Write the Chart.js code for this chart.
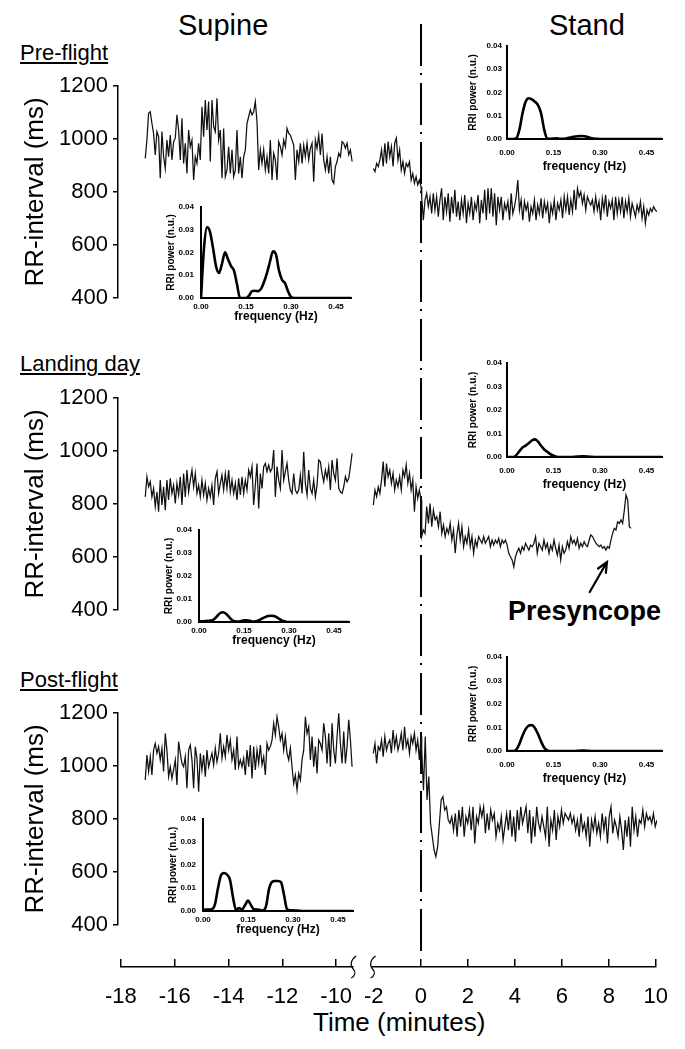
<!DOCTYPE html>
<html><head><meta charset="utf-8">
<script src="https://cdn.jsdelivr.net/npm/chart.js@4.4.0/dist/chart.umd.min.js"></script>
<style>
html,body{margin:0;padding:0;background:#fff;}
#fig{position:relative;width:685px;height:1049px;overflow:hidden;background:#fff;font-family:'Liberation Sans',Arial,Helvetica,sans-serif;color:#000;}
#fig canvas{position:absolute;}
.t{position:absolute;white-space:nowrap;line-height:1;}
</style></head><body><div id="fig">
<div class="t" style="left:178px;top:11px;font-size:29px;">Supine</div>
<div class="t" style="left:549px;top:11px;font-size:29px;">Stand</div>
<div class="t" style="left:20px;top:42px;font-size:22px;text-decoration:underline;">Pre-flight</div>
<div class="t" style="left:20px;top:353px;font-size:22px;text-decoration:underline;">Landing day</div>
<div class="t" style="left:20px;top:669px;font-size:22px;text-decoration:underline;">Post-flight</div>
<div class="t" style="left:508px;top:598px;font-size:27px;font-weight:bold;">Presyncope</div>
<div class="t" style="left:313px;top:1009px;font-size:26px;">Time (minutes)</div>
</div>
<script>
// ---------------- DATA ----------------
// RR-interval series (ms)
const PRE_SUPINE = [927,996,1097,1103,1059,1021,940,1028,1009,852,1028,933,889,996,933,1015,921,990,1003,1091,1034,921,1078,908,984,870,1034,971,996,845,933,908,984,921,1122,1009,1147,1034,1141,915,1147,1047,1028,1154,996,1034,852,1040,858,883,971,870,959,858,883,1034,870,933,852,933,959,1059,1084,1110,1091,1103,1141,1065,883,959,908,959,883,933,870,996,845,946,921,845,990,971,940,996,971,1040,1021,1015,996,977,845,959,915,984,908,977,933,984,921,965,984,839,996,965,1015,940,1021,921,883,933,870,933,845,833,896,915,946,933,990,984,965,984,940,959,915];
const PRE_PRESTAND = [889,877,908,896,921,959,896,984,908,990,933,971,896,984,1003,921,959,883,914,870,908,896,914,845,870,833,858,827,845,820];
const PRE_STAND = [782,694,770,795,745,782,719,795,732,782,707,770,814,694,782,726,795,688,782,719,808,707,764,694,770,719,789,682,757,719,782,694,757,732,789,682,770,719,808,694,814,719,814,707,795,675,782,732,782,694,757,732,764,694,795,719,745,782,845,732,770,694,764,732,757,688,745,719,770,694,751,719,776,701,764,726,757,682,751,719,770,694,757,732,770,701,782,732,782,713,770,726,808,732,814,782,801,757,789,732,782,764,751,770,726,782,732,764,694,776,732,789,707,764,738,770,694,782,719,770,726,782,701,764,726,776,707,757,732,707,751,726,764,701,745,682,732,713,738,726,745,732,726];

const LAND_SUPINE = [827,903,865,884,827,859,790,846,771,890,796,865,777,890,815,897,840,871,802,878,834,903,796,915,827,928,846,890,928,865,915,840,871,827,890,834,878,815,859,827,871,796,897,922,840,878,909,853,915,859,928,846,890,840,878,815,897,834,903,840,890,853,928,903,941,796,871,953,783,915,859,941,953,922,947,922,934,1004,827,941,890,859,1004,890,922,953,890,853,840,915,853,840,853,909,840,997,878,834,928,859,840,890,827,871,966,959,915,884,928,897,941,853,966,915,890,972,859,846,840,865,903,884,897,941,991];
const LAND_PRESTAND = [796,853,828,865,840,891,960,865,953,903,928,878,916,853,891,865,903,853,928,903,947,878,916,853,891,771,865,821,853,815];
const LAND_STAND = [677,702,689,790,727,802,714,777,740,752,714,771,689,721,677,708,689,727,664,702,614,683,727,664,714,639,677,652,702,639,677,614,664,639,677,664,652,677,652,664,677,639,664,645,664,652,670,639,664,652,664,645,614,601,589,563,601,620,633,614,639,626,652,639,626,645,639,652,677,614,652,639,626,664,633,652,614,645,626,664,633,607,645,589,639,614,626,658,633,677,652,664,645,670,633,652,639,658,645,639,664,683,677,664,652,645,639,645,633,639,626,639,633,664,689,708,702,733,727,740,727,777,834,815,714,708];

const POST_SUPINE = [947,1041,979,1035,966,1060,1085,1048,1073,1023,1067,979,1123,1060,960,997,953,985,1023,928,1092,1048,1010,997,1035,916,1060,1079,1023,916,1073,1029,903,1048,985,1041,960,1060,997,1023,1048,1004,1067,1016,1048,1123,1029,1073,1035,1117,1060,1098,1023,1060,985,1111,997,1023,997,1029,966,1060,997,1079,953,1073,985,1060,1010,1079,1004,1035,966,1085,1060,1073,1098,1161,1117,1186,1148,1098,1123,1060,1111,1048,1023,1067,997,934,966,909,972,947,1023,1060,1186,1123,1148,1023,1111,997,1073,972,1098,1085,1060,1161,1111,1010,1123,997,1161,1060,1010,1111,1199,1085,1010,1130,1010,1073,1174,1098,997];
const POST_PRESTAND = [1048,1085,1010,1073,1060,1098,1035,1111,1060,1085,1098,1048,1136,1073,1111,1060,1085,1123,1060,1148,1073,1098,1048,1111,1085,1123,1060,1098,1023,1111];
const POST_STAND = [1060,909,1111,872,960,784,733,683,658,695,784,872,884,834,846,796,784,809,758,821,733,834,771,846,733,809,784,834,758,846,708,809,784,846,809,846,746,821,758,834,796,821,733,784,758,809,721,771,821,758,834,733,809,714,834,758,846,784,815,846,746,834,708,809,733,846,784,758,809,771,733,846,695,796,758,834,721,809,771,834,784,821,809,796,821,784,809,758,796,733,821,758,784,733,809,695,796,758,809,746,784,733,821,758,809,708,809,846,746,796,771,733,809,758,683,796,733,809,695,846,758,809,733,796,784,834,771,821,796,809,784,821,771,796];

// time span (minutes) of each recorded segment
const SUPINE_SPAN = [-17.0, -9.41];
const PRESTAND_SPAN = [-2.02, 0.0];
const STAND_SPAN = [[0.03, 10.0], [0.03, 8.9], [0.03, 10.0]];

// RRI power spectra (n.u.), frequency 0.00 ... 0.50 Hz, step 0.01
const FREQ_STEP = 0.01;
const PRE_SUP_PSD = [0,0.022,0.031,0.029,0.022,0.014,0.011,0.015,0.020,0.017,0.014,0.012,0.006,0.0,0.0,0.0,0.001,0.003,0.0032,0.003,0.004,0.007,0.011,0.016,0.0205,0.019,0.012,0.008,0.0065,0.003,0.0005,0,0,0,0,0,0,0,0,0,0,0,0,0,0,0,0,0,0,0,0];
const PRE_STD_PSD = [0,0,0,0.0003,0.004,0.011,0.016,0.0175,0.017,0.016,0.0145,0.011,0.004,0.0002,0.0001,0.0002,0.0003,0.0001,0.0001,0.0002,0.0005,0.0008,0.0011,0.0012,0.0013,0.0012,0.0009,0.0004,0.0002,0.0001,0,0,0,0,0,0,0,0,0,0,0,0,0,0,0,0,0,0,0,0,0];
const LAND_SUP_PSD = [0.0003,0.0003,0.0004,0.0005,0.0006,0.0012,0.0025,0.0038,0.0042,0.0036,0.0022,0.0009,0.0003,0.0002,0.0004,0.0007,0.0007,0.0005,0.0002,0.0003,0.0008,0.0015,0.0021,0.0026,0.0027,0.0026,0.002,0.0011,0.0004,0.0001,0,0,0,0,0,0,0,0,0,0,0,0,0,0,0,0,0,0,0,0,0];
const LAND_STD_PSD = [0,0,0,0.0008,0.0025,0.004,0.0048,0.0058,0.007,0.0075,0.0065,0.0048,0.0032,0.0022,0.0012,0.0005,0.0001,0,0,0,0,0,0.0001,0.0002,0.0003,0.0003,0.0002,0.0001,0,0,0,0,0,0,0,0,0,0,0,0,0,0,0,0,0,0,0,0,0,0,0];
const POST_SUP_PSD = [0.0004,0.0006,0.0006,0.0008,0.003,0.010,0.0155,0.0165,0.0158,0.0135,0.006,0.0005,0.0013,0.0006,0.0025,0.0045,0.0025,0.0007,0.0006,0.0004,0.0002,0.002,0.0095,0.0126,0.013,0.013,0.0125,0.007,0.0008,0.0003,0.0003,0.0002,0.0001,0,0,0,0,0,0,0,0,0,0,0,0,0,0,0,0,0,0];
const POST_STD_PSD = [0,0,0,0.0006,0.003,0.0065,0.0093,0.0108,0.011,0.0098,0.0072,0.004,0.0014,0.0003,0,0,0,0,0,0,0,0,0,0.0001,0.0002,0.0002,0.0001,0,0,0,0,0,0,0,0,0,0,0,0,0,0,0,0,0,0,0,0,0,0,0,0];

// tick labels
const RR_TICKS = [400, 600, 800, 1000, 1200];
const TIME_TICKS_L = [-18, -16, -14, -12, -10];
const TIME_TICKS_R = [-2, 0, 2, 4, 6, 8, 10];
const FREQ_TICKS = [0, 0.15, 0.30, 0.45];
const PSD_TICKS = [0, 0.01, 0.02, 0.03, 0.04];
const ROW_NAMES = ['Pre-flight', 'Landing day', 'Post-flight'];

// presyncope arrow, in (minutes, ms) of the landing-day panel
const ARROW = {from: [7.15, 468], to: [7.88, 581]};

// ---------------- LAYOUT ----------------
const FONT = "'Liberation Sans', Arial, Helvetica, sans-serif";
Chart.defaults.font.family = FONT;
Chart.defaults.color = '#000';
const AX_X = 118, AX_END = 657, ZERO_X = 421;
const PX_L = 27.25, PX_R = 23.6;
const BREAK_L = -9.37, START_R = -2.05;
const ROWS = [
  {top: 20, bottom: 340, y1200: 86, y400: 298},
  {top: 340, bottom: 652, y1200: 398, y400: 610},
  {top: 652, bottom: 962, y1200: 713, y400: 925}
];
const DASH_TOP = 24, DASH_BOT = 955, DASH = [42, 7, 2, 8];
const fig = document.getElementById('fig');

function makeCanvas(left, top, w, h, z) {
  const c = document.createElement('canvas');
  c.width = w; c.height = h;
  c.style.left = left + 'px'; c.style.top = top + 'px';
  c.style.width = w + 'px'; c.style.height = h + 'px';
  c.style.zIndex = z;
  fig.appendChild(c);
  return c;
}
function series(vals, span) {
  const n = vals.length;
  return vals.map((v, i) => ({x: span[0] + i * (span[1] - span[0]) / (n - 1), y: v}));
}
function spectrum(vals) {
  return vals.map((v, i) => ({x: +(i * FREQ_STEP).toFixed(2), y: v}));
}

const vlinePlugin = {
  id: 'vline',
  beforeDatasetsDraw(chart, args, opts) {
    const x = chart.scales.xR.getPixelForValue(0);
    const ctx = chart.ctx;
    const y0 = Math.max(DASH_TOP, opts.pageTop), y1 = Math.min(DASH_BOT, opts.pageBottom);
    ctx.save();
    ctx.strokeStyle = '#000'; ctx.lineWidth = 2;
    ctx.setLineDash(DASH);
    ctx.lineDashOffset = (y0 - DASH_TOP) % DASH.reduce((a, b) => a + b, 0);
    ctx.beginPath(); ctx.moveTo(x, y0 - opts.pageTop); ctx.lineTo(x, y1 - opts.pageTop); ctx.stroke();
    ctx.restore();
  }
};
const arrowPlugin = {
  id: 'arrow',
  afterDatasetsDraw(chart, args, opts) {
    if (!opts.show) return;
    const xs = chart.scales.xR, ys = chart.scales.y, ctx = chart.ctx;
    const x0 = xs.getPixelForValue(ARROW.from[0]), y0 = ys.getPixelForValue(ARROW.from[1]);
    const x1 = xs.getPixelForValue(ARROW.to[0]), y1 = ys.getPixelForValue(ARROW.to[1]);
    const a = Math.atan2(y1 - y0, x1 - x0), L = 11, s = 0.42;
    ctx.save();
    ctx.strokeStyle = '#000'; ctx.lineWidth = 2.2; ctx.lineCap = 'round';
    ctx.beginPath(); ctx.moveTo(x0, y0); ctx.lineTo(x1, y1);
    ctx.moveTo(x1 - L * Math.cos(a - s), y1 - L * Math.sin(a - s)); ctx.lineTo(x1, y1);
    ctx.lineTo(x1 - L * Math.cos(a + s), y1 - L * Math.sin(a + s));
    ctx.stroke(); ctx.restore();
  }
};

const SUPINES = [PRE_SUPINE, LAND_SUPINE, POST_SUPINE];
const PRESTANDS = [PRE_PRESTAND, LAND_PRESTAND, POST_PRESTAND];
const STANDS = [PRE_STAND, LAND_STAND, POST_STAND];

ROWS.forEach((R, r) => {
  const cv = makeCanvas(0, R.top, 685, R.bottom - R.top, 1);
  const stand = series(PRESTANDS[r], PRESTAND_SPAN).concat(series(STANDS[r], STAND_SPAN[r]));
  new Chart(cv, {
    type: 'line',
    data: {datasets: [
      {label: ROW_NAMES[r] + ' supine', data: series(SUPINES[r], SUPINE_SPAN), xAxisID: 'xL', yAxisID: 'y'},
      {label: ROW_NAMES[r] + ' stand', data: stand, xAxisID: 'xR', yAxisID: 'y'}
    ]},
    options: {
      responsive: false, animation: false, events: [],
      layout: {padding: {left: 0, right: 685 - AX_END, top: R.y1200 - R.top, bottom: R.bottom - R.y400}},
      elements: {point: {radius: 0}, line: {borderColor: '#111', borderWidth: 1.25, tension: 0, fill: false}},
      plugins: {legend: {display: false}, tooltip: {enabled: false},
        vline: {pageTop: R.top, pageBottom: R.bottom}, arrow: {show: r === 1}},
      scales: {
        xL: {type: 'linear', display: false, min: -18, max: -18 + (AX_END - AX_X) / PX_L},
        xR: {type: 'linear', display: false, min: -(ZERO_X - AX_X) / PX_R, max: (AX_END - ZERO_X) / PX_R},
        y: {type: 'linear', position: 'left', min: 400, max: 1200,
          afterFit: s => { s.width = AX_X; },
          afterBuildTicks: s => { s.ticks = RR_TICKS.map(v => ({value: v})); },
          ticks: {font: {size: 22}, color: '#000', padding: 5, callback: v => String(v)},
          grid: {drawOnChartArea: false, drawTicks: true, tickLength: 5, color: '#000', lineWidth: 1.5},
          border: {display: true, color: '#000', width: 1.5},
          title: {display: true, text: 'RR-interval (ms)', font: {size: 26}, color: '#000', padding: {top: 20, bottom: 0}}
        }
      }
    },
    plugins: [vlinePlugin, arrowPlugin]
  });
});

// ---------------- INSETS ----------------
const INSETS = [
  {side: 'sup', x0: 201, yTop: 203, yBot: 298, data: PRE_SUP_PSD},
  {side: 'std', x0: 507, yTop: 44, yBot: 139, data: PRE_STD_PSD},
  {side: 'sup', x0: 199, yTop: 526, yBot: 622, data: LAND_SUP_PSD},
  {side: 'std', x0: 507, yTop: 361, yBot: 457, data: LAND_STD_PSD},
  {side: 'sup', x0: 203, yTop: 815, yBot: 911, data: POST_SUP_PSD},
  {side: 'std', x0: 507, yTop: 655, yBot: 751, data: POST_STD_PSD}
];
const ISTYLE = {
  sup: {w: 150, yLabPad: 7, yTitlePad: 4, xLabPad: 4, xH: 26},
  std: {w: 155, yLabPad: 5, yTitlePad: 0, xLabPad: 9, xH: 35}
};
INSETS.forEach(I => {
  const S = ISTYLE[I.side], YW = 40, PT = 8, PR = 12, PB = 2;
  const cv = makeCanvas(I.x0 - YW, I.yTop - PT, YW + S.w + PR, PT + (I.yBot - I.yTop) + S.xH + PB, 2);
  new Chart(cv, {
    type: 'line',
    data: {datasets: [{data: spectrum(I.data), borderColor: '#000', borderWidth: 2.6, cubicInterpolationMode: 'monotone', pointRadius: 0}]},
    options: {
      responsive: false, animation: false, events: [],
      layout: {padding: {left: 0, top: PT, right: PR, bottom: PB}},
      plugins: {legend: {display: false}, tooltip: {enabled: false}},
      scales: {
        x: {type: 'linear', min: 0, max: 0.5,
          afterFit: s => { s.height = S.xH; },
          afterBuildTicks: s => { s.ticks = FREQ_TICKS.map(v => ({value: v})); },
          ticks: {font: {size: 8, weight: 'bold'}, color: '#000', padding: S.xLabPad, maxRotation: 0, autoSkip: false,
            callback: v => v.toFixed(2)},
          grid: {display: false, drawTicks: false},
          border: {display: true, color: '#000', width: 2},
          title: {display: true, text: 'frequency (Hz)', font: {size: 12, weight: 'bold'}, color: '#000', padding: {top: 0, bottom: 0}}
        },
        y: {type: 'linear', min: 0, max: 0.04,
          afterFit: s => { s.width = YW; },
          afterBuildTicks: s => { s.ticks = PSD_TICKS.map(v => ({value: v})); },
          ticks: {font: {size: 8, weight: 'bold'}, color: '#000', padding: S.yLabPad, callback: v => v.toFixed(2)},
          grid: {display: false, drawTicks: false},
          border: {display: true, color: '#000', width: 2},
          title: {display: true, text: 'RRI power (n.u.)', font: {size: 10, weight: 'bold'}, color: '#000', padding: {top: S.yTitlePad, bottom: 0}}
        }
      }
    }
  });
});

// ---------------- TIME AXIS ----------------
const breakPlugin = {
  id: 'brk',
  afterDraw(chart, args, opts) {
    const s = chart.scales.x, ctx = chart.ctx;
    const x = s.getPixelForValue(opts.at), y = chart.chartArea.bottom;
    ctx.save(); ctx.strokeStyle = '#000'; ctx.lineWidth = 1.2;
    ctx.beginPath();
    ctx.moveTo(x + 3, y - 11);
    ctx.bezierCurveTo(x - 3, y - 7, x - 3, y - 1, x, y + 2);
    ctx.bezierCurveTo(x + 3, y + 5, x + 2, y + 9, x - 2, y + 11);
    ctx.stroke(); ctx.restore();
  }
};
function timeAxis(min, max, ticks, breakAt, hideTick) {
  const AY = 967, TOP = 950, H = 80, TL = 8, XH = 40;
  const isLeft = min === -18;
  const left = isLeft ? AX_X - 30 : AX_X + 210;
  const areaL = isLeft ? AX_X : ZERO_X + min * PX_R;
  const areaR = isLeft ? AX_X + (max + 18) * PX_L : AX_END;
  const w = isLeft ? 300 : 685 - left;
  const cv = makeCanvas(left, TOP, w, H, 1);
  new Chart(cv, {
    type: 'line',
    data: {datasets: []},
    options: {
      responsive: false, animation: false, events: [],
      layout: {padding: {left: areaL - left, right: left + w - areaR, top: AY - TL - TOP, bottom: H - (AY - TOP) - XH}},
      plugins: {legend: {display: false}, tooltip: {enabled: false}, brk: {at: breakAt}},
      scales: {
        x: {type: 'linear', min: min, max: max,
          afterFit: s => { s.height = XH; },
          afterBuildTicks: s => { s.ticks = ticks.map(v => ({value: v})); },
          ticks: {font: {size: 22}, color: '#000', padding: 17, maxRotation: 0, autoSkip: false},
          grid: {drawOnChartArea: true, drawTicks: false, lineWidth: 1.5,
            color: c => (c.tick && c.tick.value === hideTick) ? 'rgba(0,0,0,0)' : '#000'},
          border: {display: true, color: '#000', width: 1.5}
        },
        y: {display: false, min: 0, max: 1}
      }
    },
    plugins: [breakPlugin]
  });
}
timeAxis(-18, BREAK_L, TIME_TICKS_L, BREAK_L, null);
timeAxis(START_R, 10, TIME_TICKS_R, START_R, -2);
</script>
</body></html>
